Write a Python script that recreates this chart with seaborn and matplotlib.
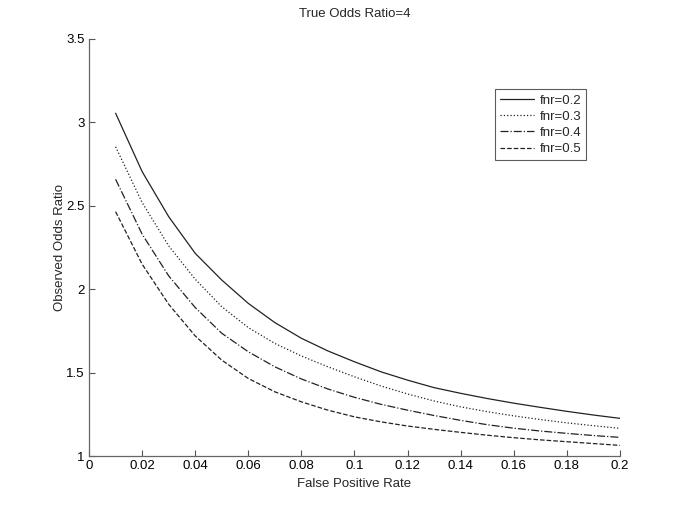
import pandas as pd
import matplotlib
matplotlib.use("Agg")
import matplotlib.pyplot as plt
import seaborn as sns

# Data
fpr = [0.01, 0.02, 0.03, 0.04, 0.05, 0.06, 0.07, 0.08, 0.09, 0.10,
       0.11, 0.12, 0.13, 0.14, 0.15, 0.16, 0.17, 0.18, 0.19, 0.20]
fnr02 = [3.055, 2.705, 2.435, 2.215, 2.055, 1.915, 1.800, 1.706, 1.630, 1.565,
         1.505, 1.455, 1.410, 1.376, 1.345, 1.317, 1.292, 1.268, 1.246, 1.226]
fnr03 = [2.854, 2.520, 2.260, 2.060, 1.895, 1.770, 1.675, 1.600, 1.535, 1.475,
         1.420, 1.372, 1.330, 1.295, 1.266, 1.241, 1.219, 1.199, 1.182, 1.166]
fnr04 = [2.659, 2.330, 2.080, 1.890, 1.736, 1.625, 1.535, 1.462, 1.402, 1.352,
         1.310, 1.275, 1.243, 1.214, 1.188, 1.167, 1.150, 1.136, 1.123, 1.112]
fnr05 = [2.465, 2.150, 1.910, 1.720, 1.575, 1.465, 1.385, 1.325, 1.275, 1.235,
         1.205, 1.180, 1.160, 1.142, 1.125, 1.110, 1.097, 1.086, 1.075, 1.064]
labels = ["fnr=0.2", "fnr=0.3", "fnr=0.4", "fnr=0.5"]
xticks = [0, 0.02, 0.04, 0.06, 0.08, 0.1, 0.12, 0.14, 0.16, 0.18, 0.2]
xticklabels = ["0", "0.02", "0.04", "0.06", "0.08", "0.1", "0.12", "0.14", "0.16", "0.18", "0.2"]
yticks = [1, 1.5, 2, 2.5, 3, 3.5]
yticklabels = ["1", "1.5", "2", "2.5", "3", "3.5"]

sns.set_style("white")
plt.rcParams["font.family"] = ["Liberation Sans", "DejaVu Sans"]

fig = plt.figure(figsize=(6.85, 5.13), dpi=100)
ax = fig.add_axes([0.130, 0.111, 0.775, 0.813])

styles = ["-", ":", "-.", "--"]
for vals, lab, ls in zip([fnr02, fnr03, fnr04, fnr05], labels, styles):
    df = pd.DataFrame({"fpr": fpr, "or": vals})
    sns.lineplot(data=df, x="fpr", y="or", ax=ax, color="#222222",
                 linewidth=0.9, linestyle=ls, label=lab)

ax.set_xlim(0, 0.2)
ax.set_ylim(1, 3.5)
ax.set_xticks(xticks)
ax.set_xticklabels(xticklabels)
ax.set_yticks(yticks)
ax.set_yticklabels(yticklabels)
ax.tick_params(direction="in", length=4, width=0.8, color="#555555",
               labelsize=9.5, labelcolor="black", pad=3,
               bottom=True, left=True)
for s in ["top", "right"]:
    ax.spines[s].set_visible(False)
for s in ["left", "bottom"]:
    ax.spines[s].set_color("#666666")
    ax.spines[s].set_linewidth(0.9)

ax.set_xlabel("False Positive Rate", fontsize=9.5, labelpad=4)
ax.set_ylabel("Observed Odds Ratio", fontsize=9.5, labelpad=0)
ax.set_title("True Odds Ratio=4", fontsize=9.5, pad=16)

leg = ax.legend(loc="upper right", bbox_to_anchor=(0.937, 0.880),
                fontsize=9.5, frameon=True, fancybox=False, handlelength=2.6,
                borderpad=0.4, labelspacing=0.3, handletextpad=0.4,
                borderaxespad=0)
leg.get_frame().set_edgecolor("#333333")
leg.get_frame().set_linewidth(0.8)

fig.savefig("out.png", dpi=100, facecolor="white")
